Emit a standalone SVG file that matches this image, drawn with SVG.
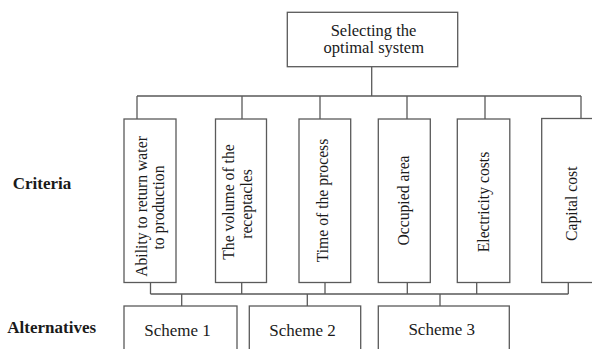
<svg xmlns="http://www.w3.org/2000/svg" width="592" height="349" viewBox="0 0 592 349">
<style>
.box{fill:#fff;stroke:#5a5a5a;stroke-width:1.3}
.ln{fill:none;stroke:#5a5a5a;stroke-width:1.3}
.t{font-family:"Liberation Serif","Times New Roman",serif;fill:#1a1a1a}
.top{font-size:16.5px;text-anchor:middle}
.rot{font-size:15.7px;text-anchor:middle}
.sch{font-size:17px;text-anchor:middle}
.lab{font-size:17px;font-weight:bold}
</style>
<rect width="592" height="349" fill="#fff"/>
<g id="connectors">
<path class="ln" d="M371.7 66.7V96M137 96H581M137 96V119M242 96V119M320 96V119M407 96V119M485 96V119M581 96V118.5"/>
<path class="ln" d="M150.5 282.7V294M241.7 282.7V294M325 282.7V294M407.3 282.7V294M476.7 282.7V294M568.3 282.7V294M150.5 294H568.3"/>
<path class="ln" d="M181.7 294V306M307.3 294V306M440 294V306"/>
</g>
<g id="root">
<rect class="box" x="287.3" y="12.3" width="170.4" height="54.4"/>
<text class="t top" x="373.5" y="35.8">Selecting the</text>
<text class="t top" x="373.8" y="53.4">optimal system</text>
</g>
<g id="c1">
<rect class="box" x="124" y="119" width="52" height="163.5"/>
<text class="t rot" transform="translate(146.5 206.5) rotate(-90)">Ability to return water</text>
<text class="t rot" transform="translate(164 207.5) rotate(-90)">to production</text>
</g>
<g id="c2">
<rect class="box" x="215.5" y="119" width="51" height="163.5"/>
<text class="t rot" transform="translate(233.5 202) rotate(-90)">The volume of the</text>
<text class="t rot" transform="translate(251.5 204) rotate(-90)">receptacles</text>
</g>
<g id="c3">
<rect class="box" x="299" y="119" width="51.7" height="163.5"/>
<text class="t rot" transform="translate(328 200.5) rotate(-90)">Time of the process</text>
</g>
<g id="c4">
<rect class="box" x="378.3" y="119" width="52" height="163.5"/>
<text class="t rot" transform="translate(409 200.5) rotate(-90)">Occupied area</text>
</g>
<g id="c5">
<rect class="box" x="457.3" y="119" width="52.5" height="163.5"/>
<text class="t rot" transform="translate(489 202) rotate(-90)">Electricity costs</text>
</g>
<g id="c6">
<rect class="box" x="541.7" y="118.5" width="60" height="164"/>
<text class="t rot" transform="translate(577 203.7) rotate(-90)">Capital cost</text>
</g>
<g id="s1">
<rect class="box" x="124" y="306" width="113" height="60"/>
<text class="t sch" x="177.5" y="335.7">Scheme 1</text>
</g>
<g id="s2">
<rect class="box" x="249.3" y="306" width="111.4" height="60"/>
<text class="t sch" x="302.5" y="336">Scheme 2</text>
</g>
<g id="s3">
<rect class="box" x="378.3" y="306" width="131" height="60"/>
<text class="t sch" x="441.7" y="335.3">Scheme 3</text>
</g>
<g id="labels">
<text class="t lab" x="12.7" y="189">Criteria</text>
<text class="t lab" x="7.3" y="333.3">Alternatives</text>
</g>
</svg>
